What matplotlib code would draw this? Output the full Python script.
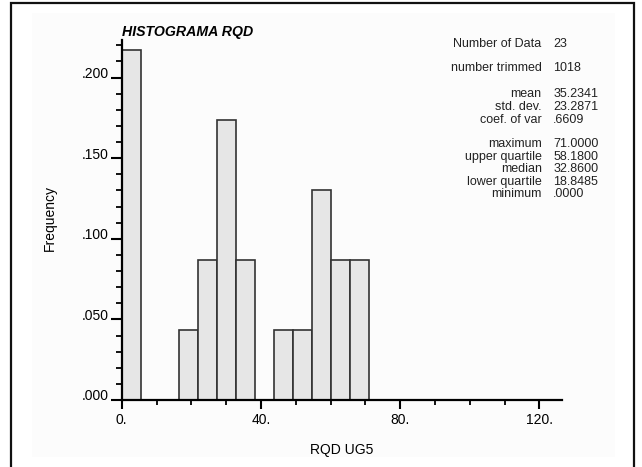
import matplotlib
matplotlib.use("Agg")
import matplotlib.pyplot as plt
import matplotlib.transforms as mtransforms
from matplotlib.patches import Rectangle
import numpy as np

plt.rcParams['font.family'] = ['Liberation Sans', 'DejaVu Sans']

# ---- data -------------------------------------------------------------
title = "HISTOGRAMA RQD"
x_label = "RQD UG5"
y_label = "Frequency"

n_data = 23
data_min = 0.0
data_max = 71.0
n_bins = 13
bin_counts = [5, 0, 0, 1, 2, 4, 2, 0, 1, 1, 3, 2, 2]

x_ticks = [0, 40, 80, 120]
x_tick_labels = ["0.", "40.", "80.", "120."]
y_ticks = [0.0, 0.05, 0.10, 0.15, 0.20]
y_tick_labels = [".000", ".050", ".100", ".150", ".200"]

stat_names = ["Number of Data", "number trimmed", "mean", "std. dev.",
              "coef. of var", "maximum", "upper quartile", "median",
              "lower quartile", "minimum"]
stat_values = ["23", "1018", "35.2341", "23.2871", ".6609", "71.0000",
               "58.1800", "32.8600", "18.8485", ".0000"]

# ---- figure -----------------------------------------------------------
W, H = 642, 467
fig = plt.figure(figsize=(W / 100, H / 100), dpi=100)
fig.patch.set_facecolor('white')


def fx(px):
    return px / W


def fy(py):
    return 1 - py / H


# faint plot panel and the outer frame
fig.patches.append(Rectangle((fx(32), fy(457)), fx(615) - fx(32), fy(13) - fy(457),
                             transform=fig.transFigure, facecolor='#fcfcfc',
                             edgecolor='none', zorder=0))
fig.patches.append(Rectangle((fx(11.5), fy(475)), fx(634) - fx(11.5), fy(2.5) - fy(475),
                             transform=fig.transFigure, facecolor='none',
                             edgecolor='#111111', linewidth=1.6, zorder=1))

ax_left, ax_right = 121.7, 562
ax_bottom, ax_top = 400, 40
ax = fig.add_axes([fx(ax_left), fy(ax_bottom), fx(ax_right) - fx(ax_left),
                   fy(ax_top) - fy(ax_bottom)])
ax.set_facecolor('none')
ax.set_zorder(2)

edges = np.linspace(data_min, data_max, n_bins + 1)
width = edges[1] - edges[0]
freq = np.array(bin_counts) / n_data
ax.bar(edges[:-1], freq, width=width, align='edge', color='#e6e6e6',
       edgecolor='#333333', linewidth=1.2, zorder=2)

ax.set_xlim(0, 126.5)
ax.set_ylim(0, 0.2233)

for s in ['top', 'right']:
    ax.spines[s].set_visible(False)
for s in ['left', 'bottom']:
    ax.spines[s].set_linewidth(1.6)
    ax.spines[s].set_color('black')
    ax.spines[s].set_zorder(3)

ax.set_xticks(x_ticks)
ax.set_xticklabels(x_tick_labels)
ax.set_xticks(np.arange(10, 126, 10), minor=True)
ax.set_yticks(y_ticks)
ax.set_yticklabels(y_tick_labels)
ax.set_yticks(np.arange(0.01, 0.2233, 0.01), minor=True)

ax.tick_params(axis='x', which='major', direction='out', length=6.5, width=1.5,
               pad=3, labelsize=10, colors='black')
ax.tick_params(axis='x', which='minor', direction='out', length=3.6, width=1.3)
ax.tick_params(axis='y', which='major', direction='out', length=8, width=1.5,
               pad=1.5, labelsize=10, colors='black')
ax.tick_params(axis='y', which='minor', direction='out', length=4.3, width=1.3)

# y tick labels sit on top of their tick marks
shift = mtransforms.ScaledTranslation(0, 5 / 100, fig.dpi_scale_trans)
for lab in ax.get_yticklabels():
    lab.set_transform(lab.get_transform() + shift)

fig.text(fx(121.7), fy(35.7), title, fontsize=10.2, fontweight='bold',
         fontstyle='italic', ha='left', va='baseline', zorder=3)
fig.text(fx(50), fy(218), y_label, fontsize=10, rotation=90,
         ha='center', va='center', zorder=3)
fig.text(fx(342), fy(450), x_label, fontsize=10, ha='center', va='center',
         zorder=3)

row_y = [44.3, 68.3, 94, 107.3, 120, 144, 156.7, 169, 181.7, 194]
for name, val, py in zip(stat_names, stat_values, row_y):
    fig.text(fx(541.7), fy(py), name, fontsize=9, ha='right', va='center',
             color='#222222', zorder=3)
    fig.text(fx(553.3), fy(py), val, fontsize=9, ha='left', va='center',
             color='#222222', zorder=3)

fig.savefig("out.png", dpi=100)
